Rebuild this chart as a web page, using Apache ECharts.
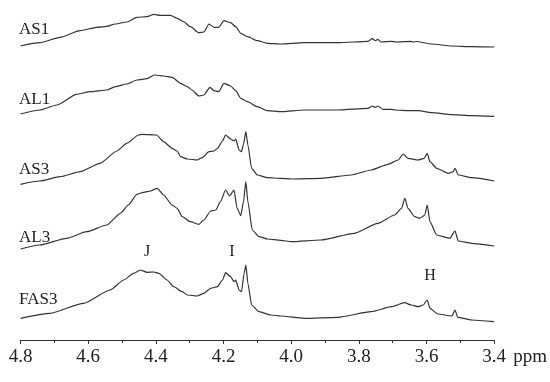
<!DOCTYPE html>
<html>
<head>
<meta charset="utf-8">
<title>NMR spectra</title>
<script src="https://cdn.jsdelivr.net/npm/echarts@6/dist/echarts.min.js"></script>
<style>
    html, body { margin: 0; padding: 0; background: #fff; }
    #main { width: 550px; height: 382px; }
</style>
</head>
<body>
<div id="main"></div>
<script>
    // spectra: [ppm, intensity]
    var as1 = [[4.80,1.0],[4.743,4.3],[4.683,9.7],[4.624,16.3],[4.575,19.7],[4.545,20.7],[4.52,23],[4.486,25],[4.456,29.7],[4.426,30.3],[4.406,32.7],[4.387,31.7],[4.357,31.7],[4.337,28.7],[4.318,25.3],[4.298,20.3],[4.273,14.3],[4.258,15],[4.243,23],[4.228,19.7],[4.214,19.7],[4.199,26.3],[4.179,24.3],[4.164,20.3],[4.149,13.7],[4.129,10.3],[4.10,6.3],[4.07,3.7],[4.031,3],[3.961,4.3],[3.862,4.3],[3.773,5.7],[3.76,8.3],[3.751,6.3],[3.744,7.7],[3.734,5],[3.704,5.7],[3.69,5],[3.648,5.7],[3.64,5],[3.63,5.5],[3.585,3],[3.525,1],[3.466,0.3],[3.40,0]];
    var al1 = [[4.80,2.5],[4.743,6.5],[4.693,11.5],[4.634,22.2],[4.594,24.8],[4.545,26.5],[4.52,29.8],[4.486,32.5],[4.456,36.5],[4.426,37.8],[4.404,41.5],[4.377,40.5],[4.352,39.2],[4.327,33.2],[4.307,29.8],[4.293,26.5],[4.273,20.5],[4.258,21.5],[4.24,29.2],[4.228,25.8],[4.214,24.8],[4.199,33.2],[4.179,30.5],[4.164,25.8],[4.149,18.2],[4.129,14.8],[4.10,9.8],[4.07,5.8],[4.031,4.8],[3.961,6.5],[3.862,6.5],[3.773,8.2],[3.761,10.5],[3.751,9.2],[3.744,10.5],[3.729,7.2],[3.704,7.2],[3.694,6.5],[3.645,5.8],[3.625,5.8],[3.585,3.8],[3.525,1.8],[3.466,0.8],[3.40,0.2]];
    var as3 = [[4.80,0.2],[4.743,3.5],[4.683,7.8],[4.624,12.8],[4.565,21.2],[4.515,33.5],[4.486,41.2],[4.451,49.5],[4.441,50.2],[4.398,49.5],[4.377,42.8],[4.352,36.2],[4.337,33.5],[4.327,27.8],[4.307,25.5],[4.278,24.5],[4.263,26.8],[4.243,32.8],[4.228,33.5],[4.218,36.2],[4.203,43.5],[4.194,49.5],[4.179,45.5],[4.169,43.5],[4.164,45.5],[4.154,34.5],[4.147,32.8],[4.141,40.2],[4.134,52.8],[4.128,39.5],[4.117,16.2],[4.10,9.5],[4.07,6.8],[4.031,6.2],[4.00,5.5],[3.912,6.2],[3.823,9.5],[3.764,14.5],[3.714,20.2],[3.684,24.5],[3.669,30.5],[3.655,26.2],[3.625,24.5],[3.607,26.2],[3.598,31.2],[3.590,22.8],[3.57,16.2],[3.536,11.2],[3.521,12.8],[3.516,16.2],[3.506,9.5],[3.467,6.8],[3.40,3.5]];
    var al3 = [[4.80,0.5],[4.743,4.5],[4.664,11.2],[4.604,17.8],[4.545,24.5],[4.505,36.2],[4.481,44.5],[4.456,55.2],[4.436,57.2],[4.416,58.5],[4.396,61.2],[4.377,54.5],[4.352,44.5],[4.337,41.2],[4.322,32.8],[4.298,27.8],[4.273,25.2],[4.258,29.5],[4.238,38.5],[4.223,39.5],[4.209,47.8],[4.194,59.5],[4.182,53.5],[4.169,59.5],[4.160,41.5],[4.149,33.8],[4.141,47.8],[4.134,67.8],[4.128,47.8],[4.115,19.5],[4.095,12.8],[4.07,10.5],[4.031,9.2],[4.00,7.8],[3.912,9.5],[3.813,16.2],[3.744,26.2],[3.694,34.5],[3.674,41.2],[3.664,51.2],[3.655,41.2],[3.635,32.8],[3.62,31.2],[3.605,34.5],[3.598,44.5],[3.590,27.8],[3.57,14.5],[3.531,11.2],[3.516,18.5],[3.506,8.5],[3.467,6.2],[3.40,3.5]];
    var fas3 = [[4.80,3.7],[4.713,8.7],[4.614,18.7],[4.535,32],[4.495,42],[4.466,48.7],[4.446,52],[4.426,49.7],[4.406,50],[4.391,48.7],[4.367,42],[4.347,35.3],[4.322,30.3],[4.307,27],[4.278,26],[4.258,28.7],[4.238,33.7],[4.218,35.3],[4.203,42],[4.194,49.3],[4.179,45.3],[4.169,40.3],[4.164,42],[4.154,32],[4.147,30.3],[4.139,48.7],[4.134,57],[4.128,38.7],[4.117,17],[4.095,10.3],[4.06,7],[4.031,6],[3.961,3.7],[3.862,4.7],[3.764,10.3],[3.704,15.3],[3.665,19.3],[3.645,17],[3.625,15.3],[3.61,17],[3.598,22],[3.590,13.7],[3.567,8],[3.525,6],[3.516,12],[3.508,4.7],[3.467,2],[3.40,0.3]];

    var sampleNames = ['AS1', 'AL1', 'AS3', 'AL3', 'FAS3'];
    var spectra = [as1, al1, as3, al3, fas3];
    var peakNames = ['J', 'I', 'H'];

    // layout: vertical stacking offset of each trace and where labels sit
    var stackOffset = [293, 223.5, 155.5, 90.5, 18];
    var nameY = [30, 100, 170, 238, 300];
    var peakPos = [[147, 252], [232, 252], [430, 276]];

    var chart = echarts.init(document.getElementById('main'));

    var series = spectra.map(function (s, k) {
        return {
            name: sampleNames[k],
            type: 'line',
            showSymbol: false,
            smooth: 0.2,
            smoothMonotone: 'x',
            lineStyle: { color: '#333', width: 1.2 },
            data: s.map(function (p) { return [p[0], p[1] + stackOffset[k]]; })
        };
    });

    var graphic = sampleNames.map(function (n, k) {
        return {
            type: 'text', x: 19, y: nameY[k],
            style: { text: n, font: '17px "Liberation Serif"', fill: '#222', verticalAlign: 'middle' }
        };
    });
    peakNames.forEach(function (n, k) {
        graphic.push({
            type: 'text', x: peakPos[k][0], y: peakPos[k][1],
            style: { text: n, font: '16px "Liberation Serif"', fill: '#222', align: 'center', verticalAlign: 'middle' }
        });
    });

    var option = {
        animation: false,
        grid: { left: 20.5, right: 55, top: 0, bottom: 42 },
        xAxis: {
            type: 'value',
            inverse: true,
            min: 3.4,
            max: 4.8,
            interval: 0.2,
            name: 'ppm',
            nameLocation: 'start',
            nameGap: 19,
            nameTextStyle: { fontFamily: 'Liberation Serif', fontSize: 19, color: '#222', verticalAlign: 'top', padding: [8, 0, 0, 0] },
            axisLine: { lineStyle: { color: '#333', width: 1 } },
            axisTick: { length: 4, lineStyle: { color: '#333' } },
            minorTick: { show: true, splitNumber: 2, length: 3, lineStyle: { color: '#333' } },
            splitLine: { show: false },
            axisLabel: {
                margin: 8,
                fontFamily: 'Liberation Serif',
                fontSize: 19,
                color: '#222',
                formatter: function (v) { return v.toFixed(1); }
            }
        },
        yAxis: { type: 'value', min: 0, max: 340, show: false },
        graphic: graphic,
        series: series
    };
    chart.setOption(option);
</script>
</body>
</html>
